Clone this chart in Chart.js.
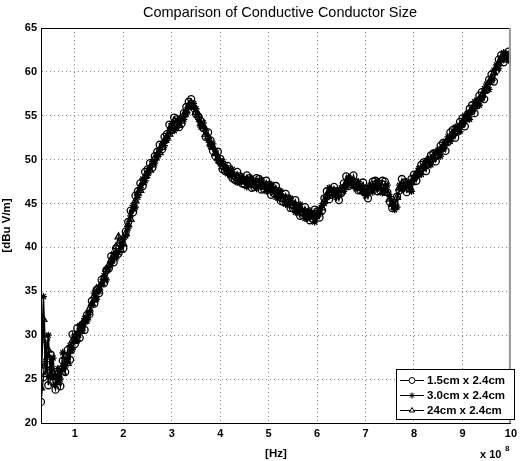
<!DOCTYPE html>
<html>
<head>
<meta charset="utf-8">
<script src="https://cdn.jsdelivr.net/npm/chart.js@4/dist/chart.umd.min.js"></script>
<style>
  html, body { margin: 0; padding: 0; background: #fff; }
  canvas { display: block; }
</style>
</head>
<body>
<canvas id="myChart" width="521" height="461"></canvas>
<script>
// frequency in units of 1e8 Hz
var freqs = [0.30, 0.35, 0.40, 0.45, 0.50, 0.55, 0.60, 0.65, 0.70, 0.75, 0.80, 0.85, 0.90, 0.95,
  1.00, 1.05, 1.10, 1.15, 1.20, 1.25, 1.30, 1.35, 1.40, 1.45, 1.50, 1.55, 1.60, 1.65, 1.70, 1.75, 1.80, 1.85, 1.90, 1.95,
  2.00, 2.05, 2.10, 2.15, 2.20, 2.25, 2.30, 2.35, 2.40, 2.45, 2.50, 2.55, 2.60, 2.65, 2.70, 2.75, 2.80, 2.85, 2.90, 2.95,
  3.00, 3.05, 3.10, 3.15, 3.20, 3.25, 3.30, 3.35, 3.40, 3.45, 3.50, 3.55, 3.60, 3.65, 3.70, 3.75, 3.80, 3.85, 3.90, 3.95,
  4.00, 4.05, 4.10, 4.15, 4.20, 4.25, 4.30, 4.35, 4.40, 4.45, 4.50, 4.55, 4.60, 4.65, 4.70, 4.75, 4.80, 4.85, 4.90, 4.95,
  5.00, 5.05, 5.10, 5.15, 5.20, 5.25, 5.30, 5.35, 5.40, 5.45, 5.50, 5.55, 5.60, 5.65, 5.70, 5.75, 5.80, 5.85, 5.90, 5.95,
  6.00, 6.05, 6.10, 6.15, 6.20, 6.25, 6.30, 6.35, 6.40, 6.45, 6.50, 6.55, 6.60, 6.65, 6.70, 6.75, 6.80, 6.85, 6.90, 6.95,
  7.00, 7.05, 7.10, 7.15, 7.20, 7.25, 7.30, 7.35, 7.40, 7.45, 7.50, 7.55, 7.60, 7.65, 7.70, 7.75, 7.80, 7.85, 7.90, 7.95,
  8.00, 8.05, 8.10, 8.15, 8.20, 8.25, 8.30, 8.35, 8.40, 8.45, 8.50, 8.55, 8.60, 8.65, 8.70, 8.75, 8.80, 8.85, 8.90, 8.95,
  9.00, 9.05, 9.10, 9.15, 9.20, 9.25, 9.30, 9.35, 9.40, 9.45, 9.50, 9.55, 9.60, 9.65, 9.70, 9.75, 9.80, 9.85, 9.90, 9.95,
  10.00];

var size15 = [22.4, 25.2, 29.5, 24.3, 27.8, 24.6, 23.8, 25.6, 24.2, 27.1, 25.8, 28.3, 27.2, 30.1,
  29.0, 30.8, 29.7, 31.2, 30.6, 32.3, 32.4, 33.9, 33.6, 35.2, 34.8, 36.3, 35.9, 37.4, 37.6, 39.0, 38.3, 39.9, 39.3, 40.8,
  39.9, 41.8, 42.9, 44.2, 44.0, 45.9, 46.4, 47.3, 47.0, 48.6, 48.9, 49.6, 49.1, 50.4, 50.9, 51.7, 51.2, 52.6, 52.9, 54.0,
  53.4, 54.8, 54.6, 53.7, 54.1, 55.3, 56.0, 56.6, 56.9, 55.9, 55.2, 54.9, 54.4, 53.6, 52.6, 53.1, 52.2, 51.0, 50.4, 50.9,
  50.1, 48.9, 48.7, 49.3, 48.9, 47.9, 47.7, 48.6, 48.1, 47.3, 47.2, 48.2, 47.9, 46.8, 46.9, 47.9, 47.8, 46.6, 46.7, 47.6,
  47.1, 46.0, 46.2, 47.0, 46.4, 45.3, 45.2, 46.1, 45.6, 44.5, 44.5, 45.4, 44.7, 43.6, 43.7, 44.6, 44.0, 43.1, 43.3, 44.3,
  44.1, 43.4, 44.2, 45.6, 46.4, 45.5, 46.0, 46.9, 46.4, 45.4, 46.2, 47.3, 48.1, 47.0, 47.2, 48.2, 47.4, 46.5, 46.5, 47.4,
  46.6, 45.6, 46.5, 47.5, 47.6, 46.4, 46.5, 47.6, 47.5, 46.3, 45.2, 44.5, 44.9, 45.8, 46.5, 47.8, 47.4, 46.3, 46.7, 47.8,
  48.3, 47.6, 48.4, 49.4, 49.7, 48.7, 49.5, 50.5, 50.7, 49.8, 50.5, 51.6, 51.9, 51.0, 52.0, 53.1, 53.4, 52.5, 53.2, 54.3,
  54.7, 53.8, 54.7, 55.8, 56.2, 55.3, 56.2, 57.3, 57.7, 56.9, 58.0, 59.1, 59.7, 58.9, 60.2, 61.4, 61.9, 61.1, 61.5, 62.3,
  61.8];

var size30 = [26.5, 34.4, 27.0, 30.0, 25.2, 27.4, 24.4, 26.2, 25.0, 28.0, 26.4, 27.0, 28.8, 28.4,
  30.0, 29.4, 31.1, 30.5, 31.9, 31.6, 32.6, 33.4, 34.8, 34.1, 35.0, 35.8, 36.8, 36.3, 37.7, 38.2, 39.3, 38.8, 39.4, 40.2,
  40.9, 41.3, 42.2, 43.6, 44.8, 44.6, 45.7, 46.8, 47.8, 47.6, 48.2, 49.1, 49.8, 49.6, 50.2, 51.1, 51.8, 51.6, 52.2, 53.3,
  54.1, 53.3, 53.6, 54.5, 54.8, 54.6, 55.2, 56.1, 56.0, 56.4, 55.8, 54.6, 53.7, 54.2, 53.3, 52.2, 51.5, 51.8, 51.0, 49.9,
  49.5, 49.8, 49.3, 48.4, 48.2, 48.9, 48.3, 47.4, 47.4, 48.1, 47.8, 46.9, 47.2, 47.9, 47.5, 46.7, 47.0, 47.7, 47.3, 46.4,
  46.5, 47.2, 46.8, 45.7, 45.7, 46.4, 45.8, 44.9, 44.9, 45.6, 45.1, 44.0, 44.0, 44.9, 44.3, 43.3, 43.3, 44.2, 43.9, 42.9,
  43.5, 44.4, 44.8, 45.0, 45.7, 46.8, 46.6, 46.0, 45.7, 46.5, 46.8, 46.4, 47.0, 48.0, 47.8, 47.0, 46.7, 47.5, 47.1, 46.3,
  45.9, 46.9, 47.1, 46.3, 46.8, 47.6, 47.1, 46.2, 46.4, 47.1, 45.8, 45.0, 44.3, 44.6, 47.1, 46.6, 46.7, 47.5, 47.3, 46.4,
  47.7, 48.4, 49.0, 48.3, 49.0, 49.9, 50.1, 49.4, 50.0, 50.9, 51.1, 50.4, 51.2, 52.1, 52.6, 52.1, 52.7, 53.7, 53.8, 53.2,
  54.0, 55.0, 55.3, 54.6, 55.5, 56.6, 56.8, 56.2, 57.0, 58.1, 58.6, 58.0, 59.0, 60.2, 60.8, 60.4, 61.3, 62.2, 62.1, 61.4,
  61.2];

var size24 = [24.0, 31.8, 25.5, 28.3, 26.3, 25.6, 25.3, 24.6, 26.1, 25.8, 27.6, 26.8, 28.2, 29.4,
  29.3, 30.0, 30.5, 31.3, 31.6, 32.0, 33.0, 33.6, 34.5, 35.3, 35.4, 35.9, 36.6, 37.5, 38.0, 38.6, 39.1, 40.1, 41.2, 39.7,
  40.4, 41.6, 42.6, 43.2, 44.4, 45.3, 46.2, 46.5, 47.4, 48.1, 48.6, 48.8, 49.4, 50.2, 50.6, 50.8, 51.4, 52.2, 52.6, 52.9,
  53.9, 54.4, 54.2, 53.9, 54.4, 55.1, 55.6, 56.2, 56.4, 56.0, 55.4, 55.1, 54.1, 53.8, 52.9, 52.6, 51.9, 51.4, 50.7, 50.2,
  49.8, 49.2, 49.1, 48.9, 48.5, 48.3, 48.0, 47.9, 47.7, 47.6, 47.5, 47.6, 47.5, 47.2, 47.2, 47.4, 47.4, 47.1, 47.0, 46.9,
  46.8, 46.7, 46.5, 46.3, 46.0, 45.8, 45.5, 45.4, 45.2, 45.0, 44.8, 44.6, 44.3, 44.2, 44.0, 43.8, 43.6, 43.7, 43.6, 43.6,
  43.8, 44.0, 44.5, 45.3, 46.0, 46.2, 46.3, 46.1, 46.0, 46.2, 46.5, 46.9, 47.3, 47.5, 47.5, 47.3, 47.0, 46.9, 46.8, 46.5,
  46.2, 46.5, 46.8, 47.0, 47.0, 46.9, 46.8, 46.8, 46.7, 46.2, 45.5, 44.9, 44.6, 45.7, 46.8, 47.0, 47.0, 47.0, 47.0, 47.4,
  48.0, 48.4, 48.7, 49.0, 49.3, 49.6, 49.8, 50.0, 50.3, 50.5, 50.8, 51.2, 51.5, 51.9, 52.3, 52.6, 53.0, 53.2, 53.5, 53.9,
  54.3, 54.6, 55.0, 55.4, 55.8, 56.1, 56.5, 56.9, 57.3, 57.8, 58.3, 58.8, 59.3, 59.9, 60.5, 61.0, 61.6, 61.9, 61.8, 61.6,
  61.5];

var seriesNames = ['1.5cm x 2.4cm', '3.0cm x 2.4cm', '24cm x 2.4cm'];
var xTicks = [1, 2, 3, 4, 5, 6, 7, 8, 9, 10];

function toPoints(ys) {
  var pts = [];
  for (var i = 0; i < freqs.length; i++) {
    pts.push({x: freqs[i], y: ys[i]});
  }
  return pts;
}

var FONT = '"Liberation Sans", Arial, sans-serif';

// title, frame, legend box and exponent label, drawn by hand like matlab does it
var matlabBits = {
  id: 'matlabBits',
  afterDraw: function(chart) {
    var ctx = chart.ctx;
    var a = chart.chartArea;
    ctx.save();

    // frame
    ctx.strokeStyle = '#000';
    ctx.lineWidth = 1;
    ctx.beginPath();
    ctx.moveTo(a.left + 0.5, a.top + 0.5);
    ctx.lineTo(a.right - 0.5, a.top + 0.5);
    ctx.stroke();
    ctx.strokeStyle = '#999';
    ctx.lineWidth = 2;
    ctx.beginPath();
    ctx.moveTo(a.right - 1, a.top);
    ctx.lineTo(a.right - 1, a.bottom);
    ctx.stroke();

    // title
    ctx.fillStyle = '#000';
    ctx.font = '14.5px ' + FONT;
    ctx.textAlign = 'center';
    ctx.textBaseline = 'middle';
    ctx.fillText('Comparison of Conductive Conductor Size', 280, 13);

    // x 10^8
    ctx.font = 'bold 11px ' + FONT;
    ctx.textAlign = 'left';
    ctx.fillText('x 10', 480, 455);
    ctx.font = 'bold 8px ' + FONT;
    ctx.fillText('8', 505, 449);

    // legend
    var bx = 396, by = 369, bw = 118, bh = 50;
    ctx.fillStyle = '#fff';
    ctx.fillRect(bx, by, bw, bh);
    ctx.strokeStyle = '#000';
    ctx.lineWidth = 1;
    ctx.strokeRect(bx + 0.5, by + 0.5, bw, bh);
    chart.data.datasets.forEach(function(ds, i) {
      var ly = by + 11 + i * 15;
      ctx.strokeStyle = '#000';
      ctx.lineWidth = 1;
      ctx.beginPath();
      ctx.moveTo(bx + 4, ly + 0.5);
      ctx.lineTo(bx + 28, ly + 0.5);
      ctx.stroke();
      ctx.fillStyle = i === 1 ? '#000' : '#fff';
      Chart.helpers.drawPoint(ctx, {
        pointStyle: ds.pointStyle,
        radius: 3,
        borderWidth: 1,
        rotation: 0
      }, bx + 16, ly + 0.5);
      ctx.fillStyle = '#000';
      ctx.font = 'bold 11.5px ' + FONT;
      ctx.textAlign = 'left';
      ctx.textBaseline = 'middle';
      ctx.fillText(ds.label, bx + 31, ly + 1);
    });
    ctx.restore();
  }
};

var ctx = document.getElementById('myChart').getContext('2d');

var myChart = new Chart(ctx, {
  type: 'line',
  data: {
    datasets: [{
      label: seriesNames[0],
      data: toPoints(size15),
      borderColor: '#000',
      backgroundColor: 'rgba(255,255,255,0)',
      borderWidth: 1.4,
      pointStyle: 'circle',
      pointRadius: 3.5,
      pointBorderWidth: 1.3,
      tension: 0
    }, {
      label: seriesNames[1],
      data: toPoints(size30),
      borderColor: '#000',
      backgroundColor: '#000',
      borderWidth: 1.4,
      pointStyle: 'star',
      pointRadius: 3.5,
      pointBorderWidth: 1.3,
      tension: 0
    }, {
      label: seriesNames[2],
      data: toPoints(size24),
      borderColor: '#000',
      backgroundColor: 'rgba(255,255,255,0)',
      borderWidth: 1.4,
      pointStyle: 'triangle',
      pointRadius: 4,
      pointBorderWidth: 1.3,
      tension: 0
    }]
  },
  options: {
    responsive: false,
    animation: false,
    layout: { padding: { top: 28, right: 2, left: 0, bottom: 0 } },
    plugins: {
      legend: { display: false },
      title: { display: false },
      tooltip: { enabled: false }
    },
    scales: {
      x: {
        type: 'linear',
        min: 0.3,
        max: 10,
        afterBuildTicks: function(scale) {
          scale.ticks = xTicks.map(function(v) { return {value: v}; });
        },
        afterFit: function(scale) { scale.height = 38; },
        ticks: {
          color: '#000',
          font: { family: FONT, size: 11, weight: 'bold' },
          padding: 4,
          maxRotation: 0,
          autoSkip: false
        },
        grid: { color: '#888', drawTicks: false, lineWidth: 1 },
        border: { color: '#000', width: 1, dash: [1, 3] },
        title: {
          display: true,
          text: '[Hz]',
          color: '#000',
          font: { family: FONT, size: 11.5, weight: 'bold' },
          padding: { top: 0, bottom: 0 }
        }
      },
      y: {
        min: 20,
        max: 65,
        afterFit: function(scale) { scale.width = 41; },
        ticks: {
          stepSize: 5,
          color: '#000',
          font: { family: FONT, size: 11, weight: 'bold' },
          padding: 4
        },
        grid: { color: '#888', drawTicks: false, lineWidth: 1 },
        border: { color: '#000', width: 1, dash: [1, 3] },
        title: {
          display: true,
          text: '[dBu V/m]',
          color: '#000',
          font: { family: FONT, size: 11.5, weight: 'bold' },
          padding: { top: 0, bottom: 2 }
        }
      }
    }
  },
  plugins: [matlabBits]
});
</script>
</body>
</html>
